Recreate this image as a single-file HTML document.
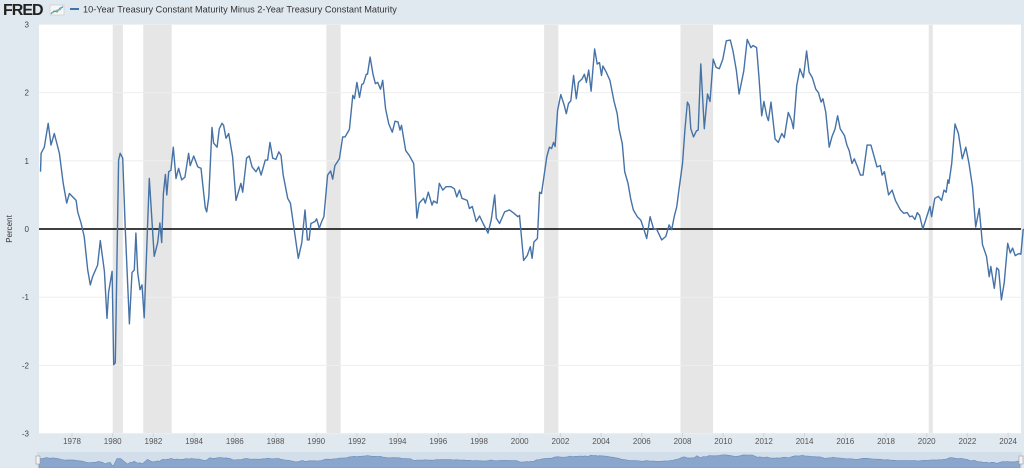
<!DOCTYPE html>
<html><head><meta charset="utf-8">
<style>
html,body{margin:0;padding:0;background:#e1e9f0;width:1024px;height:468px;overflow:hidden;font-family:"Liberation Sans",sans-serif}
svg{display:block}
</style></head>
<body>
<svg id="c" width="1024" height="468" xmlns="http://www.w3.org/2000/svg">
  <rect x="0" y="0" width="1024" height="468" fill="#e1e9f0"/>
  <g>
    <text x="3" y="15" font-family="Liberation Sans" font-weight="bold" font-size="16" fill="#222" letter-spacing="-1">FRED</text>
    <rect x="50" y="5" width="14" height="10" fill="#f4f6f8" stroke="#bbb" stroke-width="0.5"/>
    <polyline points="51,14 54,11 57,12 60,8 63,7" fill="none" stroke="#6a9a3a" stroke-width="1"/>
    <polyline points="51,13 54,12 57,10 60,10 63,6" fill="none" stroke="#5aa0c8" stroke-width="0.8"/>
  </g>
  <g>
    <line x1="70" y1="9" x2="79" y2="9" stroke="#4572a7" stroke-width="2"/>
    <text x="83" y="12.5" font-size="9.2" fill="#333">10-Year Treasury Constant Maturity Minus 2-Year Treasury Constant Maturity</text>
  </g>
  <rect x="39" y="24" width="982" height="409" fill="#ffffff"/>
  <g id="rec"></g>
  <g id="grid"></g>
  <g id="yax"></g>
  <text x="12" y="229" font-size="8" fill="#333" text-anchor="middle" transform="rotate(-90 12 229)">Percent</text>
  <g id="xax"></g>
  <line id="zero" stroke="#000" stroke-width="1.4"/>
  <path id="series" fill="none" stroke="#4572a7" stroke-width="1.4" stroke-linejoin="round"/>
  <g>
    <rect x="37" y="452" width="985" height="16" fill="#d3deeb"/>
    <path id="nav" fill="#8aa6cc" stroke="#6b8cbb" stroke-width="0.6"/>
    <rect x="36" y="456" width="4" height="8" fill="#f2f2f2" stroke="#999" stroke-width="0.6"/>
    <rect x="1019" y="456" width="4" height="8" fill="#f2f2f2" stroke="#999" stroke-width="0.6"/>
  </g>
</svg>
<script>
const dates=[1976.45,1976.48,1976.64,1976.83,1976.97,1977.13,1977.38,1977.57,1977.74,1977.87,1978.20,1978.28,1978.44,1978.60,1978.77,1978.90,1979.01,1979.26,1979.39,1979.59,1979.72,1979.80,1979.97,1980.05,1980.13,1980.29,1980.37,1980.49,1980.62,1980.82,1980.95,1981.06,1981.14,1981.23,1981.34,1981.44,1981.55,1981.80,1982.04,1982.21,1982.32,1982.41,1982.49,1982.59,1982.66,1982.75,1982.86,1982.98,1983.11,1983.24,1983.39,1983.55,1983.73,1983.81,1983.98,1984.18,1984.34,1984.55,1984.62,1984.72,1984.88,1984.96,1985.13,1985.24,1985.37,1985.45,1985.57,1985.70,1985.89,1986.06,1986.30,1986.39,1986.58,1986.71,1986.85,1987.04,1987.17,1987.29,1987.50,1987.61,1987.73,1987.86,1988.02,1988.16,1988.27,1988.38,1988.60,1988.73,1988.92,1989.12,1989.29,1989.45,1989.57,1989.65,1989.74,1989.94,1990.02,1990.15,1990.27,1990.38,1990.56,1990.71,1990.81,1990.92,1991.14,1991.30,1991.42,1991.63,1991.80,1991.88,1992.00,1992.13,1992.24,1992.32,1992.46,1992.52,1992.65,1992.79,1992.91,1993.02,1993.16,1993.27,1993.41,1993.57,1993.74,1993.87,1994.02,1994.12,1994.19,1994.40,1994.57,1994.79,1994.95,1995.06,1995.28,1995.36,1995.51,1995.69,1995.77,1995.94,1996.05,1996.22,1996.38,1996.63,1996.79,1996.91,1997.04,1997.16,1997.42,1997.53,1997.67,1997.86,1998.03,1998.20,1998.44,1998.60,1998.77,1998.85,1999.01,1999.26,1999.50,1999.72,1999.91,1999.99,2000.19,2000.37,2000.52,2000.61,2000.70,2000.87,2000.98,2001.07,2001.33,2001.46,2001.57,2001.66,2001.74,2001.86,2002.02,2002.19,2002.29,2002.40,2002.51,2002.65,2002.78,2002.89,2003.06,2003.18,2003.28,2003.39,2003.51,2003.68,2003.81,2003.92,2004.02,2004.09,2004.25,2004.43,2004.63,2004.79,2004.88,2005.04,2005.16,2005.32,2005.45,2005.58,2005.78,2005.95,2006.11,2006.24,2006.41,2006.57,2006.74,2006.98,2007.18,2007.34,2007.47,2007.59,2007.72,2007.83,2008.00,2008.12,2008.24,2008.33,2008.41,2008.54,2008.69,2008.77,2008.90,2009.07,2009.23,2009.35,2009.51,2009.65,2009.81,2009.98,2010.15,2010.35,2010.48,2010.65,2010.78,2011.01,2011.18,2011.36,2011.47,2011.64,2011.76,2011.89,2012.00,2012.14,2012.22,2012.35,2012.55,2012.71,2012.88,2013.00,2013.20,2013.36,2013.45,2013.61,2013.77,2013.94,2014.10,2014.22,2014.38,2014.55,2014.68,2014.81,2014.90,2015.04,2015.21,2015.34,2015.50,2015.62,2015.75,2015.96,2016.08,2016.19,2016.33,2016.44,2016.60,2016.74,2016.87,2017.07,2017.26,2017.40,2017.56,2017.72,2017.81,2017.92,2018.13,2018.30,2018.46,2018.71,2018.87,2019.04,2019.17,2019.29,2019.42,2019.54,2019.65,2019.81,2019.98,2020.16,2020.24,2020.40,2020.57,2020.73,2020.85,2020.96,2021.04,2021.09,2021.23,2021.39,2021.56,2021.75,2021.92,2022.08,2022.25,2022.41,2022.58,2022.74,2022.94,2023.07,2023.15,2023.32,2023.44,2023.54,2023.67,2023.81,2023.98,2024.11,2024.22,2024.35,2024.52,2024.63,2024.74,2024.84];
const values=[0.84,1.11,1.20,1.55,1.23,1.40,1.11,0.67,0.38,0.52,0.42,0.25,0.09,-0.11,-0.60,-0.82,-0.70,-0.53,-0.17,-0.62,-1.31,-0.93,-0.62,-1.99,-1.96,1.01,1.11,1.04,-0.01,-1.39,-0.64,-0.60,-0.06,-0.64,-0.89,-0.82,-1.30,0.74,-0.40,-0.20,0.09,-0.20,0.52,0.80,0.50,0.84,0.86,1.20,0.74,0.89,0.72,0.76,1.11,0.93,1.07,0.91,0.89,0.31,0.25,0.47,1.49,1.26,1.20,1.47,1.55,1.52,1.33,1.40,1.06,0.42,0.67,0.54,1.04,1.07,0.91,0.84,0.91,0.79,1.01,1.01,1.27,1.04,1.02,1.13,1.08,0.79,0.45,0.38,-0.01,-0.43,-0.20,0.28,-0.16,-0.16,0.08,0.11,0.15,0.01,0.11,0.18,0.79,0.85,0.73,0.93,1.03,1.35,1.35,1.46,1.96,1.91,2.15,1.93,2.12,2.13,2.27,2.27,2.52,2.27,2.13,2.15,2.05,2.18,1.76,1.54,1.42,1.58,1.57,1.45,1.52,1.15,1.08,0.96,0.16,0.38,0.45,0.38,0.54,0.35,0.41,0.38,0.67,0.57,0.62,0.62,0.59,0.47,0.57,0.45,0.42,0.30,0.33,0.11,0.19,0.08,-0.06,0.13,0.50,0.16,0.08,0.25,0.28,0.23,0.18,0.20,-0.46,-0.39,-0.26,-0.43,-0.19,-0.14,0.54,0.52,1.06,1.20,1.18,1.27,1.21,1.74,1.97,1.81,1.69,1.84,1.88,2.25,1.91,2.15,2.20,2.27,2.15,2.33,2.02,2.64,2.42,2.44,2.25,2.39,2.30,2.18,1.88,1.69,1.47,1.25,0.84,0.67,0.45,0.28,0.18,0.13,-0.01,-0.14,0.18,0.01,-0.01,-0.16,-0.11,0.06,-0.01,0.18,0.33,0.58,0.96,1.45,1.86,1.81,1.47,1.35,1.44,1.45,2.42,1.47,1.98,1.87,2.49,2.37,2.35,2.49,2.76,2.77,2.61,2.32,1.98,2.32,2.78,2.66,2.69,2.66,2.22,1.66,1.87,1.66,1.59,1.86,1.32,1.27,1.40,1.34,1.71,1.59,1.47,2.10,2.35,2.22,2.61,2.30,2.22,2.05,2.00,1.86,1.91,1.71,1.20,1.35,1.47,1.66,1.47,1.37,1.23,1.15,0.96,1.03,0.91,0.79,0.79,1.23,1.23,1.08,0.91,0.93,0.79,0.84,0.50,0.57,0.42,0.28,0.23,0.24,0.18,0.19,0.14,0.24,0.20,0.00,0.16,0.33,0.18,0.45,0.48,0.42,0.57,0.54,0.72,0.67,0.96,1.54,1.40,1.03,1.20,0.96,0.62,0.03,0.30,-0.23,-0.40,-0.70,-0.55,-0.87,-0.57,-0.60,-1.04,-0.79,-0.21,-0.35,-0.28,-0.39,-0.36,-0.37,-0.01,0.00];
const recStart=[1980.0,1981.5,1990.5,2001.2,2007.9,2020.1];
const recEnd=[1980.5,1982.9,1991.2,2001.9,2009.5,2020.3];
const yTicks=[3,2,1,0,-1,-2,-3];
const xTicks=[1978,1980,1982,1984,1986,1988,1990,1992,1994,1996,1998,2000,2002,2004,2006,2008,2010,2012,2014,2016,2018,2020,2022,2024];

const NS="http://www.w3.org/2000/svg";
function X(yr){return 72+(yr-1978)*20.35;}
function Y(v){return 229-v*68.2;}
function mk(tag,attrs,parent){const e=document.createElementNS(NS,tag);for(const k in attrs)e.setAttribute(k,attrs[k]);parent.appendChild(e);return e;}

const rec=document.getElementById('rec');
recStart.forEach((s,i)=>{
  const r=mk('rect',{x:X(s),y:24,width:X(recEnd[i])-X(s),height:409,fill:'#e6e6e6'},rec);
  
  
});
const grid=document.getElementById('grid'),yax=document.getElementById('yax');
yTicks.forEach(v=>{
  const l=mk('line',{x1:39,x2:1021,y1:Y(v),y2:Y(v),stroke:'#eeeeee','stroke-width':1},grid);
  
  
  const t=mk('text',{x:29,y:Y(v)+3,'font-size':8,fill:'#444','text-anchor':'end'},yax);
  t.textContent=String(v);
  
  
});
const xax=document.getElementById('xax');
xTicks.forEach(yr=>{
  const tk=mk('line',{x1:X(yr),x2:X(yr),y1:433,y2:437,stroke:'#ccd6e0','stroke-width':1},xax);
  
  
  const t=mk('text',{x:X(yr),y:444,'font-size':8,fill:'#555','text-anchor':'middle'},xax);
  t.textContent=String(yr);
  
  
});
const z=document.getElementById('zero');
z.setAttribute('x1',39);z.setAttribute('x2',1021);z.setAttribute('y1',Y(0));z.setAttribute('y2',Y(0));
let d='';
dates.forEach((t,i)=>{d+=(i?'L':'M')+X(t).toFixed(1)+','+Y(values[i]).toFixed(1);});
document.getElementById('series').setAttribute('d',d);
function NX(yr){return 39+(yr-dates[0])/(dates[dates.length-1]-dates[0])*981;}
function NY(v){return 461-v*2.2;}
let nd='M'+NX(dates[0])+',468';
dates.forEach((t,i)=>{nd+='L'+NX(t).toFixed(1)+','+NY(values[i]).toFixed(1);});
nd+='L'+NX(dates[dates.length-1])+',468Z';
document.getElementById('nav').setAttribute('d',nd);
</script>
</body></html>
